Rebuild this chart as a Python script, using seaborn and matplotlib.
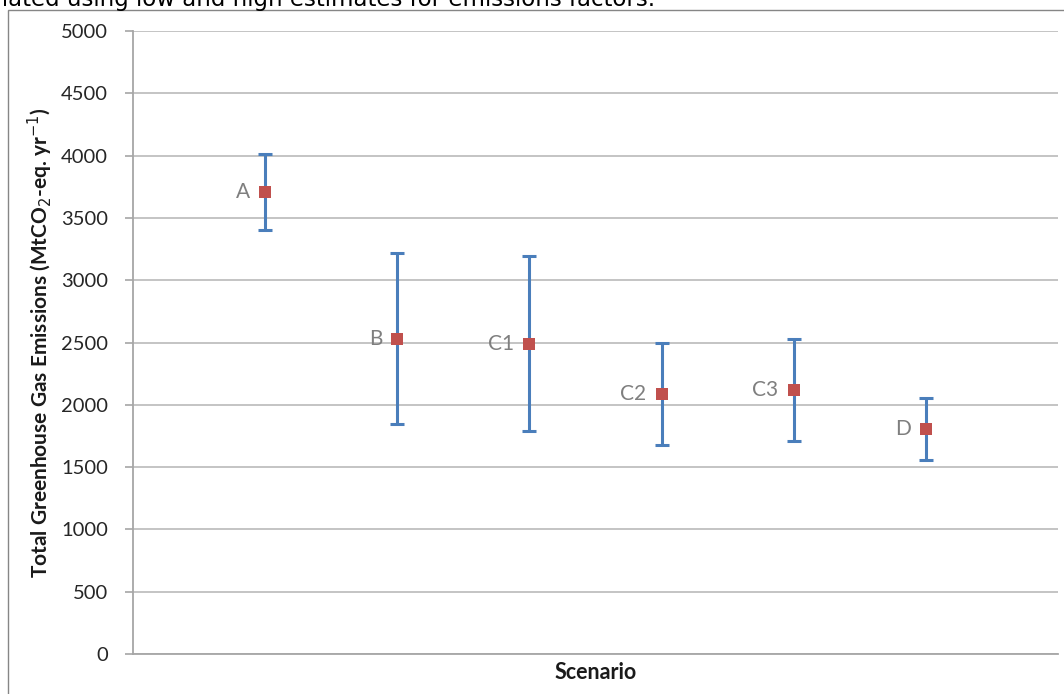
import numpy as np
import pandas as pd
import matplotlib
matplotlib.use("Agg")
import matplotlib.pyplot as plt
from matplotlib.patches import Rectangle
import seaborn as sns

scenarios = ["A", "B", "C1", "C2", "C3", "D"]
central = [3710, 2530, 2490, 2085, 2115, 1805]
low = [3400, 1845, 1790, 1675, 1710, 1555]
high = [4010, 3220, 3195, 2495, 2525, 2055]

sns.set_theme(style="white")
plt.rcParams['font.family'] = ['Lato', 'DejaVu Sans']

W, H = 1064, 694
fig = plt.figure(figsize=(W / 100, H / 100), dpi=100)
ax = fig.add_axes([133 / W, 1 - 654 / H, (1058 - 133) / W, (654 - 31) / H])

df = pd.DataFrame({"scenario": scenarios, "pos": np.arange(1, len(scenarios) + 1),
                   "value": central, "low": low, "high": high})

yerr = np.vstack([df["value"] - df["low"], df["high"] - df["value"]])
ax.errorbar(df["pos"], df["value"], yerr=yerr, fmt="none", ecolor="#4A7EBB",
            elinewidth=2.2, capsize=5, capthick=2.2, zorder=3)
sns.scatterplot(data=df, x="pos", y="value", marker="s", s=75, color="#C0504D",
                edgecolor="#C0504D", linewidth=0, zorder=4, ax=ax)

for p, v, s in zip(df["pos"], df["value"], df["scenario"]):
    ax.annotate(s, (p, v), xytext=(-11, 0), textcoords="offset points",
                ha="right", va="center", fontsize=15, color="#7F7F7F")

ax.set_xlim(0, 7)
ax.set_ylim(0, 5000)
ax.set_yticks(np.arange(0, 5001, 500))
ax.set_xticks([])
ax.yaxis.grid(True, color="#BFBFBF", linewidth=1.3)
ax.set_axisbelow(True)
for side in ["top", "right"]:
    ax.spines[side].set_visible(False)
for side in ["left", "bottom"]:
    ax.spines[side].set_color("#A6A6A6")
    ax.spines[side].set_linewidth(1.3)
ax.tick_params(axis="y", which="major", left=True, length=6, width=1.2,
               color="#A6A6A6", labelsize=14.5, labelcolor="#262626", pad=12)
ax.set_xlabel("Scenario", fontsize=15.5, fontweight="bold", color="#1a1a1a", labelpad=6)
ax.set_ylabel(r"Total Greenhouse Gas Emissions (MtCO$_2$-eq. yr$^{-1}$)", fontsize=15,
              fontweight="bold", color="#1a1a1a", labelpad=4)

# outer chart border (partially visible)
fig.patches.append(Rectangle((7.5 / W, -0.1), 2.0, 1 - 9.5 / H + 0.1,
                             transform=fig.transFigure, fill=False,
                             edgecolor="#868686", linewidth=1.0))

# cut-off caption at the top
fig.text(655 / W, 1 - 6 / H, "calculated using low and high estimates for emissions factors.",
         ha="right", va="baseline", fontsize=16.5, color="#000000", family="DejaVu Sans")

fig.savefig("out.png", dpi=100)
